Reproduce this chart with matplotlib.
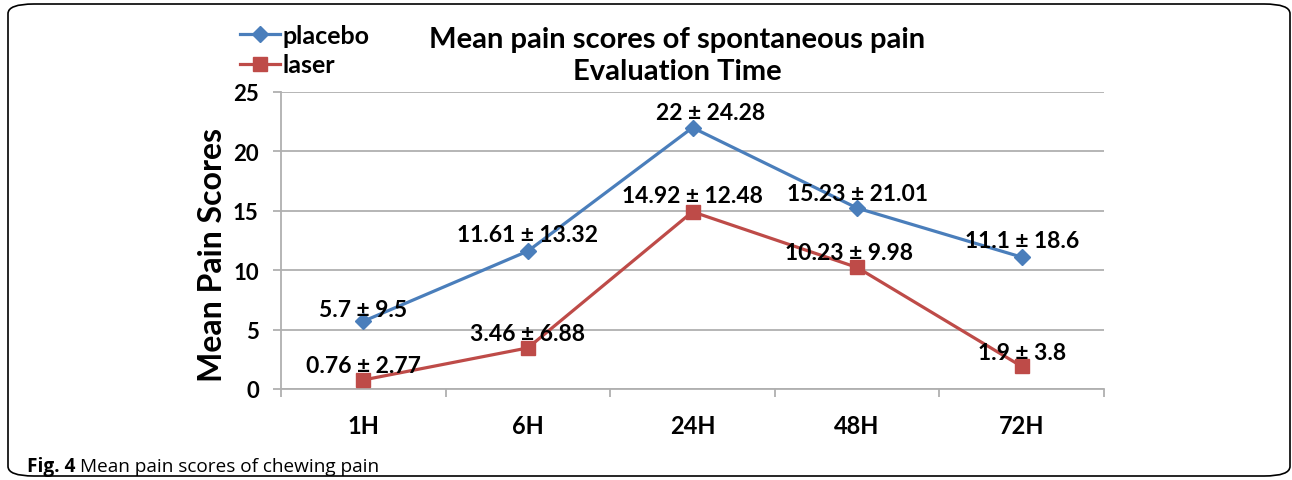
import matplotlib
matplotlib.use("Agg")
import matplotlib.pyplot as plt
from matplotlib.patches import FancyBboxPatch

categories = ["1H", "6H", "24H", "48H", "72H"]
placebo = [5.7, 11.61, 22, 15.23, 11.1]
laser = [0.76, 3.46, 14.92, 10.23, 1.9]
placebo_labels = ["5.7 ± 9.5", "11.61 ± 13.32", "22 ± 24.28", "15.23 ± 21.01", "11.1 ± 18.6"]
laser_labels = ["0.76 ± 2.77", "3.46 ± 6.88", "14.92 ± 12.48", "10.23 ± 9.98", "1.9 ± 3.8"]
yticks = [0, 5, 10, 15, 20, 25]

FONT = ["Lato", "DejaVu Sans"]
plt.rcParams['font.family'] = FONT

fig = plt.figure(figsize=(12.92, 4.81), dpi=100)
W, H = 1292, 481

# rounded border
border = FancyBboxPatch((8 / W, 4 / H), 1282 / W, 472 / H,
                        boxstyle="round,pad=0,rounding_size=0.02",
                        transform=fig.transFigure, fill=False,
                        edgecolor="black", linewidth=1.2)
fig.patches.append(border)

ax = fig.add_axes([281 / W, 91 / H, 823 / W, 297 / H])
x = list(range(len(categories)))
blue = "#4a7ebb"
red = "#be4b48"
lp, = ax.plot(x, placebo, color=blue, lw=2.3, marker="D", ms=8.5, label="placebo", zorder=3)
ll, = ax.plot(x, laser, color=red, lw=2.3, marker="s", ms=10, label="laser", zorder=3)

ax.set_xlim(-0.5, len(categories) - 0.5)
ax.set_ylim(0, 25)
ax.set_yticks(yticks)
ax.set_yticklabels([str(v) for v in yticks], fontsize=16, fontweight="bold")
ax.yaxis.grid(True, color="#b0b0b0", lw=1.3)
ax.set_axisbelow(True)
ax.set_xticks([i - 0.5 for i in range(len(categories) + 1)])
ax.set_xticklabels([])
ax.set_xticks(x, minor=True)
ax.set_xticklabels(categories, minor=True, fontsize=17, fontweight="bold")
ax.tick_params(axis="x", which="minor", length=0, pad=18)
ax.tick_params(axis="x", which="major", length=6, color="#b0b0b0", width=1.3)
ax.tick_params(axis="y", length=6, color="#b0b0b0", width=1.3, pad=10)
for s in ["top", "right"]:
    ax.spines[s].set_visible(False)
for s in ["left", "bottom"]:
    ax.spines[s].set_color("#b0b0b0")
    ax.spines[s].set_linewidth(1.3)

fig.text(212 / W, 1 - 255 / H, "Mean Pain Scores", rotation=90, ha="center", va="center",
         fontsize=23, fontweight="bold")

p_off = [(0, 4), (0, 7), (13, 6), (0, 6), (0, 7)]
l_off = [(0, 6), (0, 6), (0, 7), (-6, 6), (0, 5)]
for i in x:
    ax.annotate(placebo_labels[i], (i, placebo[i]), xytext=p_off[i], textcoords="offset points",
                ha="center", va="baseline", fontsize=16.5, fontweight="bold", zorder=5)
    ax.annotate(laser_labels[i], (i, laser[i]), xytext=l_off[i], textcoords="offset points",
                ha="center", va="baseline", fontsize=16.5, fontweight="bold", zorder=5)

fig.text(677 / W, 1 - 40 / H, "Mean pain scores of spontaneous pain", ha="center", va="center",
         fontsize=21, fontweight="bold")
fig.text(677 / W, 1 - 72 / H, "Evaluation Time", ha="center", va="center",
         fontsize=21, fontweight="bold")

leg = fig.legend(handles=[lp, ll], loc="upper left", bbox_to_anchor=(240 / W, 1 - 25 / H),
                 frameon=False, prop={"weight": "bold", "size": 18},
                 handlelength=1.6, handletextpad=0.1, labelspacing=0.25, borderpad=0,
                 borderaxespad=0)

fig.text(27 / W, 1 - 467 / H, "Fig. 4", ha="left", va="center", fontsize=13.7, fontweight="bold",
         family=["Open Sans", "DejaVu Sans"])
fig.text(80 / W, 1 - 467 / H, "Mean pain scores of chewing pain", ha="left", va="center", fontsize=13.7,
         family=["Open Sans", "DejaVu Sans"])

fig.savefig("out.png", dpi=100)
